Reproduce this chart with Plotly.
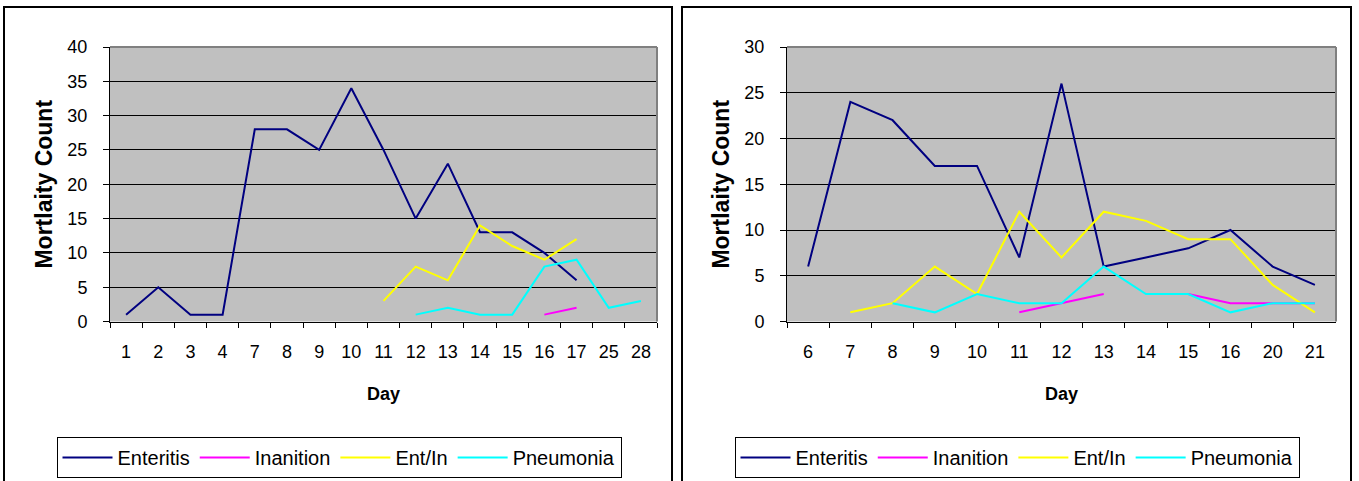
import plotly.graph_objects as go

# ---- Data: daily mortality counts by cause (two groups) ----
days_a = ["1", "2", "3", "4", "7", "8", "9", "10", "11", "12", "13", "14", "15", "16", "17", "25", "28"]
enteritis_a = [1, 5, 1, 1, 28, 28, 25, 34, 25, 15, 23, 13, 13, 10, 6, None, None]
inanition_a = [None, None, None, None, None, None, None, None, None, None, None, None, None, 1, 2, None, None]
entin_a = [None, None, None, None, None, None, None, None, 3, 8, 6, 14, 11, 9, 12, None, None]
pneumonia_a = [None, None, None, None, None, None, None, None, None, 1, 2, 1, 1, 8, 9, 2, 3]

days_b = ["6", "7", "8", "9", "10", "11", "12", "13", "14", "15", "16", "20", "21"]
enteritis_b = [6, 24, 22, 17, 17, 7, 26, 6, 7, 8, 10, 6, 4]
inanition_b = [None, None, None, None, None, 1, 2, 3, None, 3, 2, 2, 2]
entin_b = [None, 1, 2, 6, 3, 12, 7, 12, 11, 9, 9, 4, 1]
pneumonia_b = [None, None, 2, 1, 3, 2, 2, 6, 3, 3, 1, 2, 2]

series_names = ["Enteritis", "Inanition", "Ent/In", "Pneumonia"]
series_colors = ["#000080", "#FF00FF", "#FFFF00", "#00FFFF"]

y_ticks_a = [0, 5, 10, 15, 20, 25, 30, 35, 40]
y_ticks_b = [0, 5, 10, 15, 20, 25, 30]

FONT = "Arial, 'Liberation Sans', sans-serif"

fig = go.Figure()

for vals, name, color in zip([enteritis_a, inanition_a, entin_a, pneumonia_a], series_names, series_colors):
    fig.add_trace(go.Scatter(
        x=days_a, y=vals, name=name, mode="lines",
        line=dict(color=color, width=2),
        xaxis="x", yaxis="y", legend="legend",
    ))

for vals, name, color in zip([enteritis_b, inanition_b, entin_b, pneumonia_b], series_names, series_colors):
    fig.add_trace(go.Scatter(
        x=days_b, y=vals, name=name, mode="lines",
        line=dict(color=color, width=2),
        xaxis="x2", yaxis="y2", legend="legend2",
    ))

W, H = 1359, 481
y_dom = [(H - 321.5) / H, (H - 47) / H]

xcommon = dict(
    type="category", tickson="boundaries", ticks="outside", ticklen=5,
    tickcolor="black", tickwidth=1, showline=True, linecolor="black", linewidth=1,
    showgrid=False, tickfont=dict(family=FONT, size=18, color="black"),
    ticklabelstandoff=14, automargin=False,
    title=dict(text="<b>Day</b>", font=dict(family=FONT, size=18, color="black"), standoff=26),
    fixedrange=True,
)
ycommon = dict(
    ticks="outside", ticklen=6, tickcolor="black", tickwidth=1,
    showline=True, linecolor="black", linewidth=1,
    showgrid=True, gridcolor="black", gridwidth=1, zeroline=False,
    tickfont=dict(family=FONT, size=18, color="black"),
    ticklabelstandoff=12, automargin=False,
    title=dict(text="<b>Mortlaity Count</b>", font=dict(family=FONT, size=23, color="black"), standoff=8),
    fixedrange=True,
)

legend_common = dict(
    orientation="h", xanchor="center", y=(H - 437) / H, yanchor="top",
    bordercolor="black", borderwidth=1, bgcolor="white",
    font=dict(family=FONT, size=20, color="black"),
    itemwidth=50, itemclick=False, itemdoubleclick=False,
)

fig.update_layout(
    width=W, height=H,
    margin=dict(l=0, r=0, t=0, b=0, autoexpand=False),
    paper_bgcolor="white",
    plot_bgcolor="#C0C0C0",
    showlegend=True,
    xaxis=dict(domain=[110 / W, 657 / W], anchor="y", categoryorder="array", categoryarray=days_a,
               range=[-0.5, len(days_a) - 0.5], **xcommon),
    yaxis=dict(domain=y_dom, anchor="x", range=[0, 40], tickvals=y_ticks_a, **ycommon),
    xaxis2=dict(domain=[787 / W, 1336 / W], anchor="y2", categoryorder="array", categoryarray=days_b,
                range=[-0.5, len(days_b) - 0.5], **xcommon),
    yaxis2=dict(domain=y_dom, anchor="x2", range=[0, 30], tickvals=y_ticks_b, **ycommon),
    legend=dict(x=339 / W, **legend_common),
    legend2=dict(x=1017 / W, **legend_common),
)

# Chart frames around each panel (open at the bottom edge of the page)
for x0, x1 in [(4, 672), (682, 1351)]:
    fig.add_shape(type="rect", xref="paper", yref="paper",
                  x0=x0 / W, x1=x1 / W, y0=-0.05, y1=(H - 7) / H,
                  line=dict(color="black", width=2), fillcolor="rgba(0,0,0,0)", layer="below")

# Grey top/right edges of each plot area
for xr, yr in [("x domain", "y domain"), ("x2 domain", "y2 domain")]:
    fig.add_shape(type="line", xref=xr, yref=yr, x0=0, x1=1, y0=1, y1=1,
                  line=dict(color="#808080", width=2), layer="above")
    fig.add_shape(type="line", xref=xr, yref=yr, x0=1, x1=1, y0=0, y1=1,
                  line=dict(color="#808080", width=2), layer="above")

fig.write_html("out.html")
